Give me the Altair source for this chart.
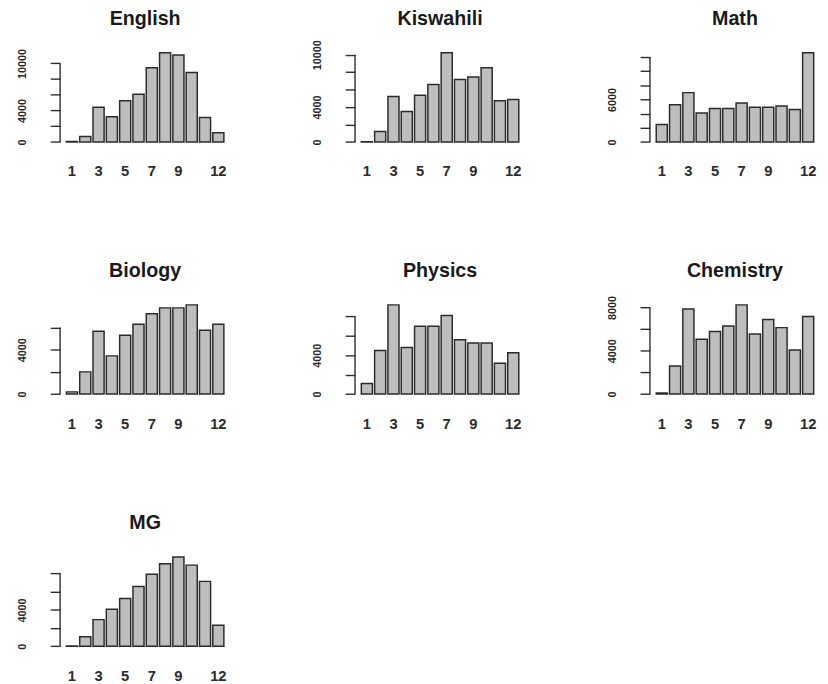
import altair as alt
import pandas as pd

subjects = ["English", "Kiswahili", "Math", "Biology", "Physics", "Chemistry", "MG"]
grades = list(range(1, 13))
x_labels = [1, 3, 5, 7, 9, 12]

english = [60, 700, 4420, 3220, 5250, 6070, 9460, 11360, 11070, 8840, 3100, 1160]
kiswahili = [30, 1190, 5200, 3490, 5350, 6580, 10220, 7140, 7430, 8510, 4720, 4870]
math = [2470, 5260, 6960, 4070, 4710, 4710, 5490, 4900, 4900, 5080, 4580, 12590]
biology = [200, 2000, 5650, 3440, 5290, 6290, 7240, 7760, 7760, 8030, 5740, 6290]
physics = [1100, 4500, 9200, 4800, 7000, 7000, 8100, 5600, 5270, 5270, 3170, 4270]
chemistry = [100, 2600, 7850, 5060, 5780, 6290, 8240, 5540, 6890, 6140, 4070, 7160]
mg = [20, 1040, 2930, 4070, 5250, 6570, 7930, 9070, 9820, 8930, 7140, 2320]

series = [english, kiswahili, math, biology, physics, chemistry, mg]
tick_top = [10000, 10000, 12000, 6000, 8000, 8000, 8000]
tick_step = 2000
shown_labels = [
    [0, 4000, 10000],
    [0, 4000, 10000],
    [0, 6000],
    [0, 4000],
    [0, 4000],
    [0, 4000, 8000],
    [0, 4000],
]

FONT = "Liberation Sans"
INK = "#2b2b2b"
W, H = 173, 98


def panel(name, vals, top, labels):
    df = pd.DataFrame({"grade": grades, "count": vals})
    m = max(vals)
    yscale = alt.Scale(domain=[-0.04 * m, 1.04 * m], nice=False, zero=False)
    lab_list = "[" + ",".join(str(v) for v in labels) + "]"
    yaxis = alt.Axis(
        title=None, values=list(range(0, top + 1, tick_step)),
        domain=False, grid=False, tickSize=10, tickColor=INK,
        tickWidth=1.4, labelAngle=270, labelAlign="center",
        labelBaseline="bottom", labelPadding=23, labelFontSize=11,
        labelFont=FONT, labelColor=INK, labelFontWeight="bold",
        labelOverlap=False,
        labelExpr="indexof(" + lab_list + ", datum.value) >= 0 ? format(datum.value, 'd') : ''",
    )
    bars = alt.Chart(df).mark_bar(
        fill="#bebebe", stroke=INK, strokeWidth=1.5
    ).encode(
        x=alt.X(
            "grade:O",
            scale=alt.Scale(paddingInner=1 / 6, paddingOuter=0.473),
            axis=alt.Axis(
                title=None, values=x_labels, domain=False, ticks=False,
                labelAngle=0, labelPadding=19, labelFontSize=15,
                labelFont=FONT, labelColor=INK, labelFontWeight="bold",
            ),
        ),
        y=alt.Y("count:Q", scale=yscale, axis=yaxis),
    )
    axis_line = alt.Chart(pd.DataFrame({"count": [0], "count_top": [top]})).mark_rule(
        color=INK, strokeWidth=1.4
    ).encode(
        x=alt.value(0),
        y=alt.Y("count:Q", scale=yscale, axis=yaxis),
        y2="count_top:Q",
    )
    title = alt.Chart(pd.DataFrame({"subject": [name]})).mark_text(
        font=FONT, fontSize=20, fontWeight="bold", color="#1a1a1a",
        align="center", baseline="middle",
    ).encode(
        text="subject:N",
        x=alt.value(W / 2),
        y=alt.value(-30.5),
    )
    return alt.layer(bars, axis_line, title).properties(width=W, height=H)


panels = [panel(n, v, t, l) for n, v, t, l in zip(subjects, series, tick_top, shown_labels)]

chart = alt.concat(
    *panels, columns=3, spacing={"row": 158.5, "column": 127}, bounds="flush"
).properties(
    padding={"left": 8, "top": -5, "right": 0, "bottom": 0}
).configure_view(stroke=None)

chart.save("out.html", embed_options={"renderer": "svg", "actions": False})
